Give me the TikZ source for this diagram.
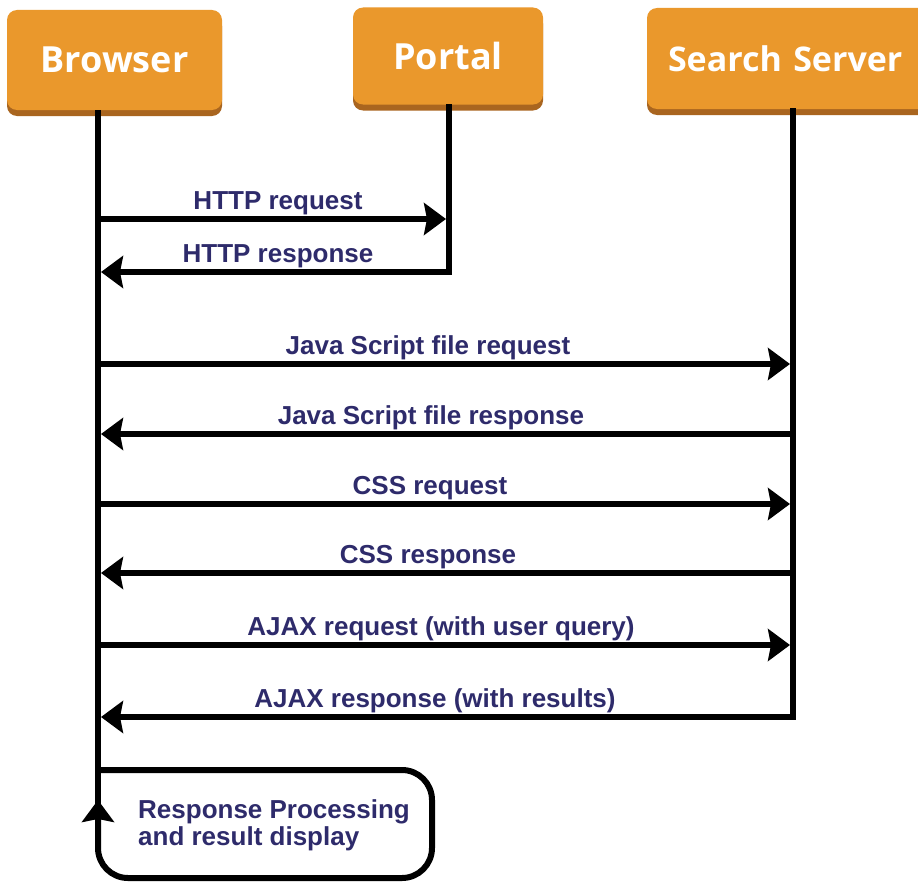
\documentclass[tikz,border=0pt]{standalone}
\usepackage{fontspec}
\setmainfont{Liberation Sans}
\newfontfamily\hdrfont{Open Sans}
\usetikzlibrary{arrows.meta,shadows}
\definecolor{boxorange}{HTML}{EA982C}
\definecolor{boxshade}{HTML}{A9651F}
\definecolor{lblnavy}{HTML}{2E2B6B}
\tikzset{
  actor/.style={rectangle, rounded corners=10pt, fill=boxorange, draw=none,
    text=white, font=\hdrfont\bfseries\fontsize{36}{40}\selectfont,
    general shadow={fill=boxshade, shadow yshift=-6pt}},
  life/.style={line width=6pt, draw=black},
  msg/.style={line width=6pt, draw=black, -{Stealth[length=22pt,width=32pt,inset=3pt]}},
  lbl/.style={text=lblnavy, font=\bfseries\fontsize{26}{27}\selectfont, inner sep=0pt, anchor=base}
}
\begin{document}
\begin{tikzpicture}[x=1pt,y=-1pt]
\useasboundingbox (0,0) rectangle (918,883);
\fill[white] (0,0) rectangle (918,883);

% actors
\node[actor, minimum width=215pt, minimum height=100pt] (browser) at (114.5,60) {Browser};
\node[actor, minimum width=190pt, minimum height=97pt] (portal) at (448,56) {Portal};
\begin{scope}
\clip (0,0) rectangle (918,883);
\node[actor, minimum width=290pt, minimum height=101pt, inner xsep=21pt,
  font=\hdrfont\bfseries\fontsize{34}{40}\selectfont, text width=248pt, align=left] (server) at (792,58.5) {Search Server};
\end{scope}

% lifeline coordinates
\coordinate (bTop) at (98,110);
\coordinate (bEnd) at (98,823);
\coordinate (pTop) at (449,104);
\coordinate (pEnd) at (449,272);
\coordinate (sTop) at (793,108);
\coordinate (sEnd) at (793,717);

% browser lifeline
\draw[life] (bTop) -- (bEnd);

% Portal messages
\coordinate (p1) at (449,219);
\coordinate (b1) at (98,219);
\coordinate (b2) at (98,272);
\draw[msg] (b1) -- ([xshift=-3pt]p1);
\node[lbl] (l1) at (278,209) {HTTP request};
\draw[msg] (pTop) -- (pEnd) -- ([xshift=3pt]b2);
\node[lbl] (l2) at (278,262) {HTTP response};

% Search server messages
\coordinate (b3) at (98,364);   \coordinate (s3) at (793,364);
\coordinate (b4) at (98,434);   \coordinate (s4) at (793,434);
\coordinate (b5) at (98,504);   \coordinate (s5) at (793,504);
\coordinate (b6) at (98,573);   \coordinate (s6) at (793,573);
\coordinate (b7) at (98,645);   \coordinate (s7) at (793,645);
\coordinate (b8) at (98,717);

\draw[msg] (b3) -- ([xshift=-3pt]s3);
\node[lbl] (l3) at (428,354) {Java Script file request};
\draw[msg] (s4) -- ([xshift=3pt]b4);
\node[lbl] (l4) at (431,424) {Java Script file response};
\draw[msg] (b5) -- ([xshift=-3pt]s5);
\node[lbl] (l5) at (430,494) {CSS request};
\draw[msg] (s6) -- ([xshift=3pt]b6);
\node[lbl] (l6) at (428,563) {CSS response};
\draw[msg] (b7) -- ([xshift=-3pt]s7);
\node[lbl] (l7) at (441,635) {AJAX request (with user query)};
\draw[msg] (sTop) -- (sEnd) -- ([xshift=3pt]b8);
\node[lbl] (l8) at (435,707) {AJAX response (with results)};

% self loop
\coordinate (loopStart) at (98,770);
\coordinate (loopTip) at (98,800);
\draw[msg, rounded corners=30pt] (loopStart) -- (432,770) -- (432,878) -- (98,878) -- (loopTip);
\node[text=lblnavy, font=\bfseries\fontsize{26}{27}\selectfont, inner sep=0pt, anchor=north west, align=left] (proc) at (138,799) {Response Processing\\and result display};
\end{tikzpicture}
\end{document}
